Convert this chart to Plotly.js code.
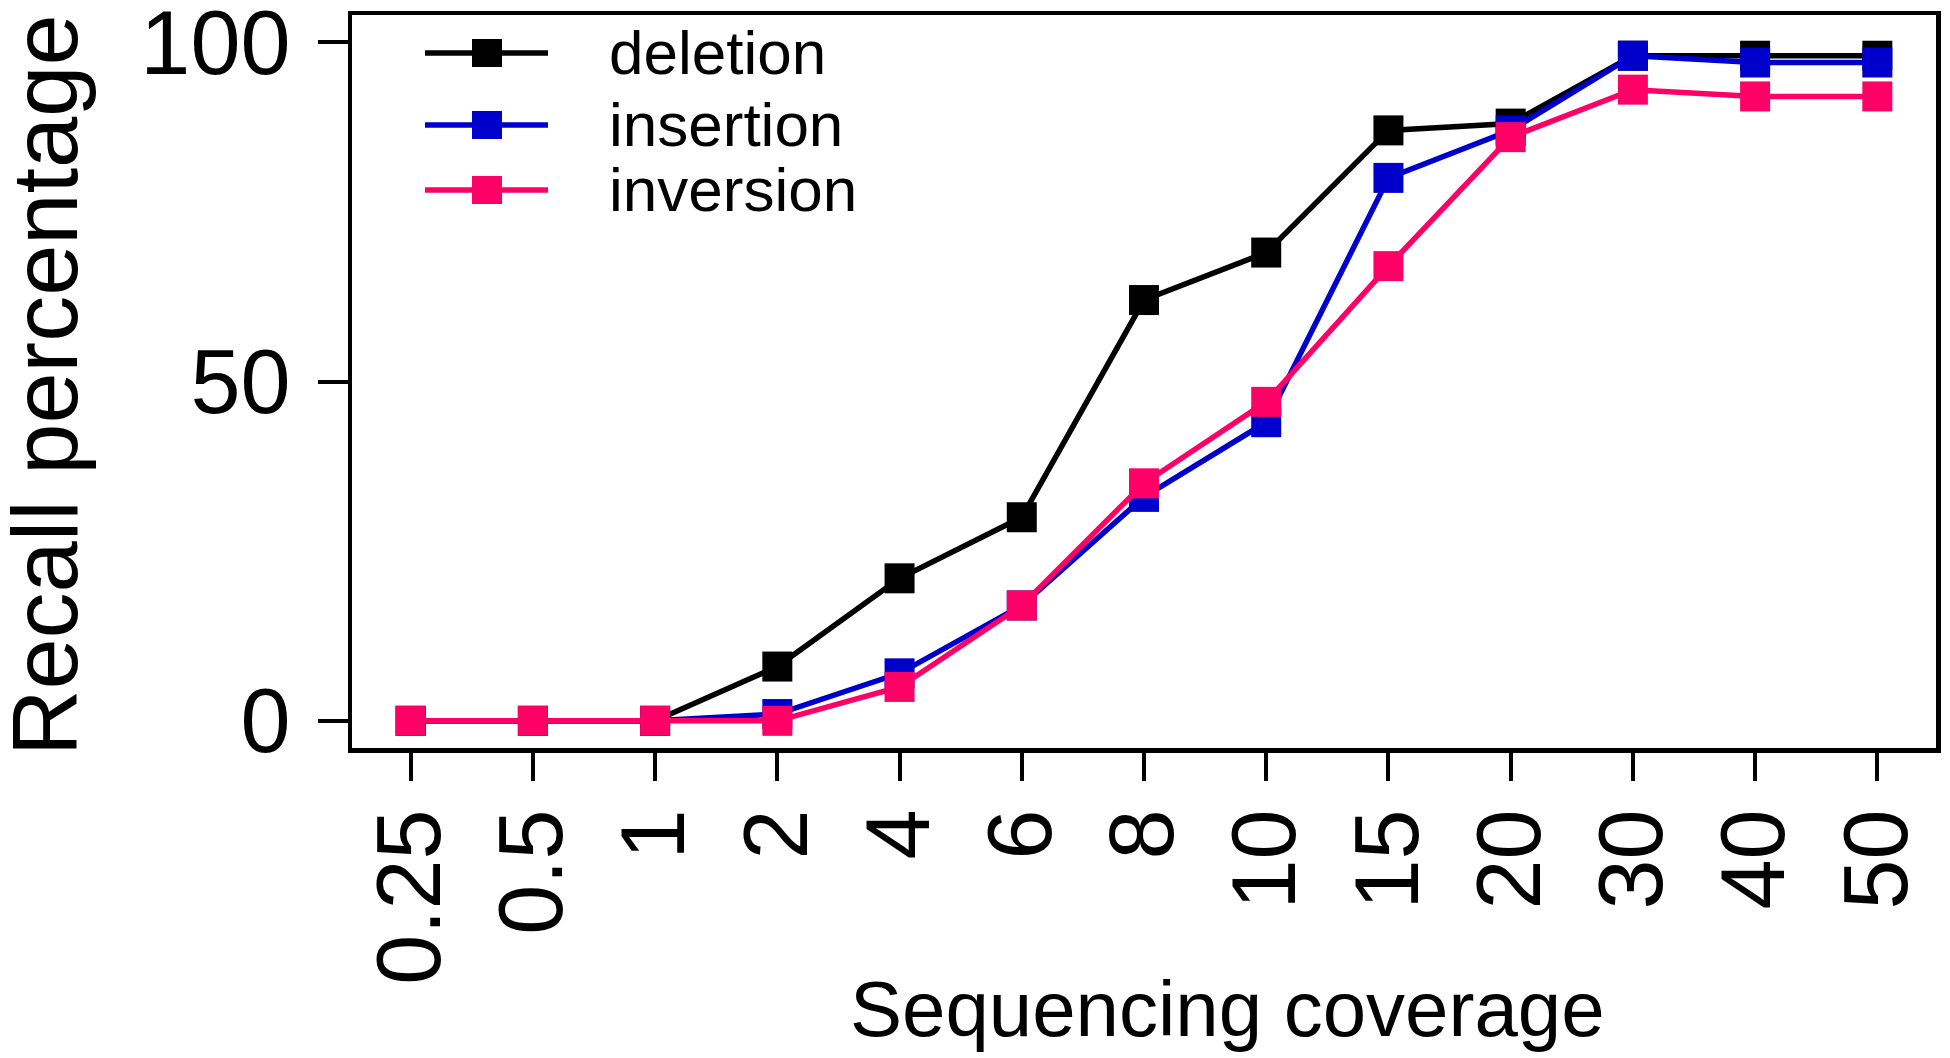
<!DOCTYPE html>
<html>
<head>
<meta charset="utf-8">
<script src="https://cdn.plot.ly/plotly-3.0.1.min.js"></script>
<style>
  html, body { margin: 0; padding: 0; background: #ffffff; }
  #chart { width: 1950px; height: 1058px; }
</style>
</head>
<body>
<div id="chart"></div>
<script>
// ---- data ----
const categories = ['0.25', '0.5', '1', '2', '4', '6', '8', '10', '15', '20', '30', '40', '50'];
const deletion   = [0, 0, 0, 8, 21, 30, 62, 69, 87, 88, 98, 98, 98];
const insertion  = [0, 0, 0, 1, 7, 17, 33, 44, 80, 87, 98, 97, 97];
const inversion  = [0, 0, 0, 0, 5, 17, 35, 47, 67, 86, 93, 92, 92];
const seriesNames  = ['deletion', 'insertion', 'inversion'];
const seriesValues = [deletion, insertion, inversion];
const seriesColors = ['#000000', '#0000CC', '#FF0066'];
const yTickVals = [0, 50, 100];
const xTitle = 'Sequencing coverage';
const yTitle = 'Recall percentage';

// ---- layout geometry (pixels) ----
const W = 1950, H = 1058;
const M = { l: 352, r: 14, t: 15, b: 310 };
const PW = W - M.l - M.r, PH = H - M.t - M.b;
const xp = X => (X - M.l) / PW;
const yp = Y => (H - M.b - Y) / PH;
const FONT = '"Liberation Sans", Arial, Helvetica, sans-serif';

const traces = seriesNames.map((name, i) => ({
  type: 'scatter',
  mode: 'lines+markers',
  name: name,
  x: categories,
  y: seriesValues[i],
  line: { color: seriesColors[i], width: 5.5 },
  marker: { symbol: 'square', size: 30, color: seriesColors[i], line: { width: 0 } },
  cliponaxis: false,
  showlegend: false
}));

// manual R-style legend (line + square + label)
const legendRowsY = [53, 125, 190];
const legendLineX = [425, 548];
const legendMarkX = 487;
const legendTextX = 607;
const shapes = [];
const annotations = [];
seriesNames.forEach((name, i) => {
  shapes.push({
    type: 'line', xref: 'paper', yref: 'paper',
    x0: xp(legendLineX[0]), x1: xp(legendLineX[1]),
    y0: yp(legendRowsY[i]), y1: yp(legendRowsY[i]),
    line: { color: seriesColors[i], width: 5.5 }
  });
  shapes.push({
    type: 'rect', xref: 'paper', yref: 'paper',
    xsizemode: 'pixel', ysizemode: 'pixel',
    xanchor: xp(legendMarkX), yanchor: yp(legendRowsY[i]),
    x0: -15, x1: 15, y0: -14, y1: 14,
    fillcolor: seriesColors[i], line: { width: 0 }
  });
  annotations.push({
    xref: 'paper', yref: 'paper',
    x: xp(legendTextX), y: yp(legendRowsY[i] - 1),
    xanchor: 'left', yanchor: 'middle',
    text: name, showarrow: false,
    font: { family: FONT, size: 62, color: '#000000' }
  });
});

// axis titles
annotations.push({
  xref: 'paper', yref: 'paper',
  x: xp(1227), y: yp(1009),
  xanchor: 'center', yanchor: 'middle',
  text: xTitle, showarrow: false,
  font: { family: FONT, size: 78, color: '#000000' }
});
annotations.push({
  xref: 'paper', yref: 'paper',
  x: xp(45), y: yp(385),
  xanchor: 'center', yanchor: 'middle',
  textangle: -90,
  text: yTitle, showarrow: false,
  font: { family: FONT, size: 92, color: '#000000' }
});

const layout = {
  width: W, height: H,
  margin: M,
  paper_bgcolor: '#ffffff',
  plot_bgcolor: '#ffffff',
  font: { family: FONT, color: '#000000' },
  showlegend: false,
  xaxis: {
    type: 'category',
    categoryorder: 'array',
    categoryarray: categories,
    range: [-0.48, 12.48],
    showgrid: false, zeroline: false,
    showline: true, mirror: true, linecolor: '#000000', linewidth: 4.5,
    ticks: 'outside', ticklen: 28, tickwidth: 4, tickcolor: '#000000',
    tickangle: -90,
    ticklabelstandoff: -7,
    ticklabeloverflow: 'allow',
    tickfont: { family: FONT, size: 90, color: '#000000' },
    fixedrange: true
  },
  yaxis: {
    range: [-4, 104],
    tickvals: yTickVals,
    ticktext: yTickVals.map(String),
    showgrid: false, zeroline: false,
    showline: true, mirror: true, linecolor: '#000000', linewidth: 4.5,
    ticks: 'outside', ticklen: 30, tickwidth: 4, tickcolor: '#000000',
    ticklabelstandoff: 9,
    ticklabeloverflow: 'allow',
    tickfont: { family: FONT, size: 90, color: '#000000' },
    automargin: false,
    fixedrange: true
  },
  shapes: shapes,
  annotations: annotations
};

Plotly.newPlot('chart', traces, layout, { displayModeBar: false, staticPlot: true });
</script>
</body>
</html>
